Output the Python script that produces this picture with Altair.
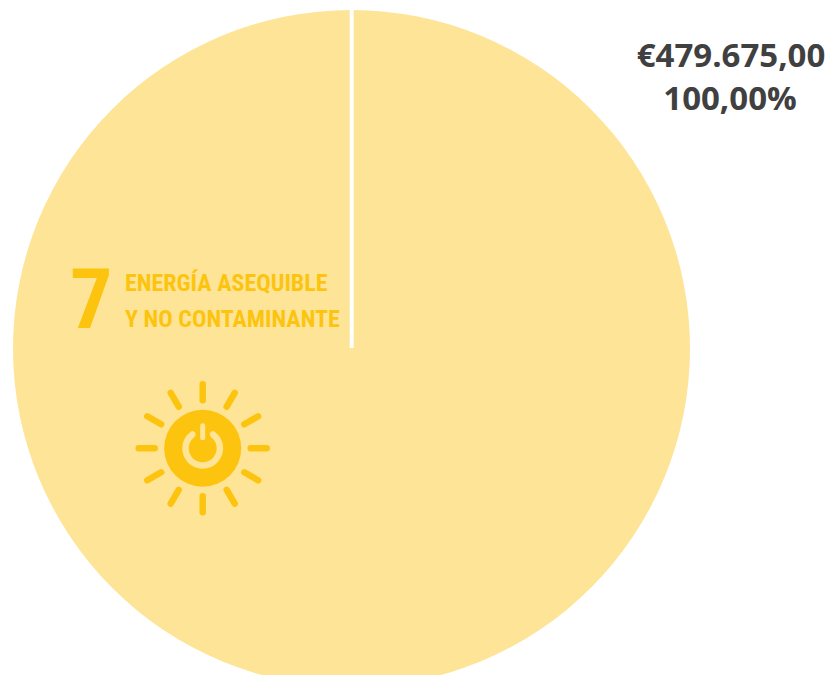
import math
import altair as alt
import pandas as pd

OFF = 8
def px(v): return v - OFF

slice_labels = ["Energía asequible y no contaminante"]
slice_values = [479675]
amount_label = "€479.675,00"
share_label = "100,00%"
goal_number = "7"
goal_lines = ["ENERGÍA ASEQUIBLE", "Y NO CONTAMINANTE"]

PIE = "#FEE496"
GOLD = "#FDC40F"
DARK = "#404040"
NARROW = "Roboto Condensed, DejaVu Sans Condensed, Liberation Sans"
CX, CY, R = px(351.5), px(348.5), 338.5
SX, SY = px(202.7), px(448.3)

pie = alt.Chart(pd.DataFrame({"k": slice_labels, "v": slice_values})).mark_arc(
    color=PIE, outerRadius=R, innerRadius=0, x=CX, y=CY
).encode(theta=alt.Theta("v:Q", stack=True))

seam = alt.Chart(pd.DataFrame({"a": [0]})).mark_rule(color="white", strokeWidth=4).encode(
    x=alt.value(CX + 0.2), y=alt.value(CY - R - 1), y2=alt.value(CY - 0.5))

def txt(text, x, y, size, color, font, weight, align="left"):
    return alt.Chart(pd.DataFrame({"t": [text]})).mark_text(
        x=x, y=y, fontSize=size, color=color, font=font, fontWeight=weight,
        align=align, baseline="alphabetic"
    ).encode(text="t:N")

labels = (
    txt(amount_label, px(731), px(67), 33, DARK, "Open Sans", "bold", "center")
    + txt(share_label, px(730), px(110), 33, DARK, "Open Sans", "bold", "center")
    + txt(goal_number, px(70), px(327.5), 84, GOLD, NARROW, "bold")
    + txt(goal_lines[0], px(125), px(290.5), 24, GOLD, NARROW, "bold")
    + txt(goal_lines[1], px(125), px(327), 24, GOLD, NARROW, "bold")
)

rays = []
for i in range(12):
    a = math.radians(i * 30)
    rays.append(dict(x=SX + 48 * math.sin(a), y=SY - 48 * math.cos(a),
                     x2=SX + 64 * math.sin(a), y2=SY - 64 * math.cos(a)))
ray_layer = alt.Chart(pd.DataFrame(rays)).mark_rule(color=GOLD, strokeWidth=6.5, strokeCap="round").encode(
    x=alt.X("x:Q", scale=None), y=alt.Y("y:Q", scale=None), x2="x2:Q", y2="y2:Q")

def arc(r0, r1, t0, t1, color, **kw):
    return alt.Chart(pd.DataFrame({"a": [0]})).mark_arc(
        color=color, x=SX, y=SY, innerRadius=r0, outerRadius=r1, theta=t0, theta2=t1, **kw
    ).encode(opacity=alt.value(1))

tau = 2 * math.pi
disc = arc(0, 38.5, 0, tau, GOLD)
ring = arc(14, 20.5, 0.45, tau - 0.45, PIE, cornerRadius=3)
stem = alt.Chart(pd.DataFrame({"a": [0]})).mark_rule(color=PIE, strokeWidth=5, strokeCap="round").encode(
    x=alt.value(SX), y=alt.value(SY - 22.5), y2=alt.value(SY - 10.5))

chart = (pie + seam + labels + ray_layer + disc + ring + stem).properties(
    width=817, height=667, padding=0, autosize=alt.AutoSizeParams(type="none"), background="white"
).configure_view(strokeWidth=0)

chart.save("out.html", embed_options={"renderer": "svg", "actions": False})
